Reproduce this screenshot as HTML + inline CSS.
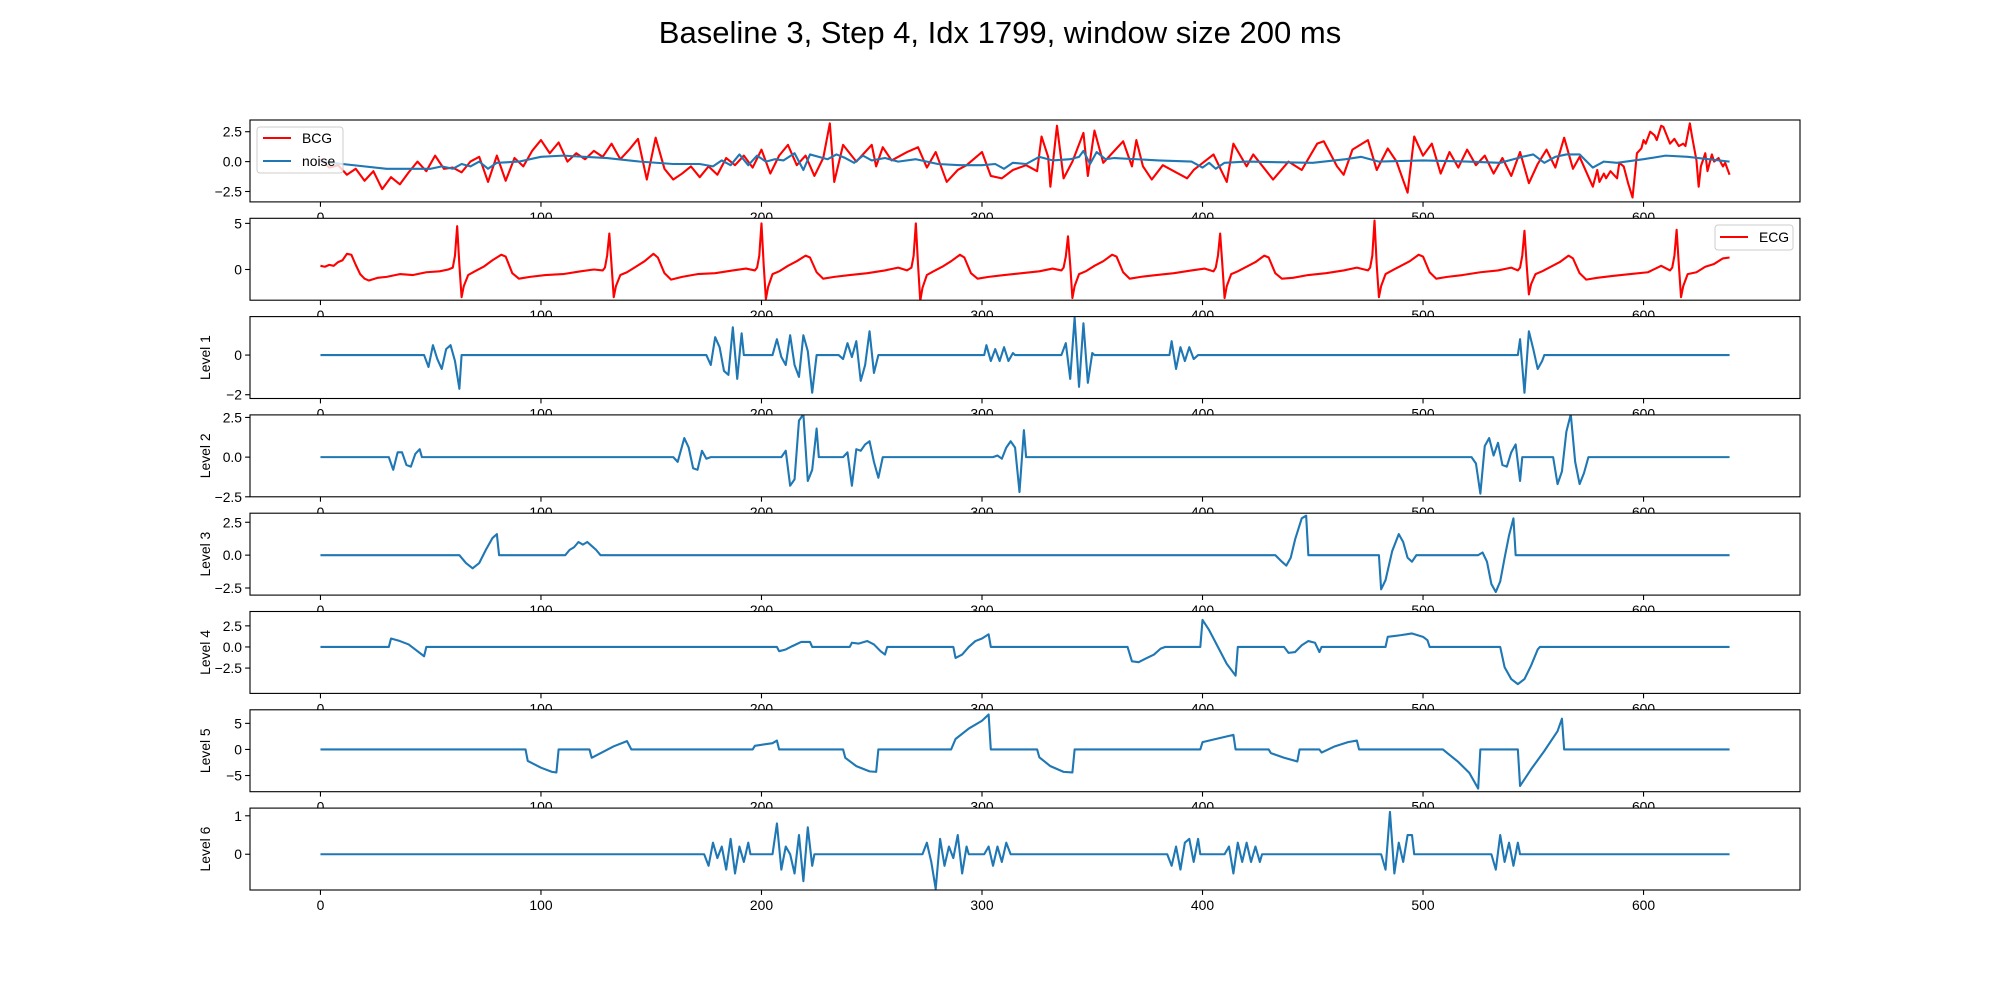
<!DOCTYPE html>
<html><head><meta charset="utf-8">
<style>
html,body{margin:0;padding:0;background:#fff;}
svg{display:block;font-family:"Liberation Sans","DejaVu Sans",sans-serif;}
</style></head>
<body>
<svg id="fig" width="2000" height="1000" viewBox="0 0 2000 1000">
<text x="1000" y="43" text-anchor="middle" font-size="31">Baseline 3, Step 4, Idx 1799, window size 200 ms</text>
</svg>
<script>
// ---- data (x,y pairs) ----
const bcgData = [[0,0.2],[4,-0.5],[8,-0.3],[12,-1.1],[16,-0.6],[20,-1.6],[24,-0.8],[28,-2.3],[32,-1.3],[36,-1.9],[40,-0.9],[44,0.0],[48,-0.8],[52,0.5],[56,-0.6],[60,-0.5],[64,-0.9],[68,0.0],[72,0.4],[76,-1.7],[80,0.5],[84,-1.6],[88,0.3],[92,-0.4],[96,0.9],[100,1.8],[104,0.7],[108,1.6],[112,0.0],[116,0.7],[120,0.2],[124,0.9],[128,0.4],[132,1.5],[136,0.2],[140,1.0],[144,1.9],[148,-1.5],[152,2.0],[156,-0.6],[160,-1.5],[164,-1.0],[168,-0.4],[172,-1.3],[176,-0.4],[180,-1.1],[184,0.3],[188,-0.3],[192,0.5],[196,-0.5],[200,1.0],[204,-1.0],[208,0.5],[212,1.4],[216,-0.3],[220,0.5],[224,-1.2],[228,0.3],[231,3.2],[233,-1.7],[237,1.4],[243,0.0],[250,1.4],[252,-0.4],[255,1.2],[259,0.1],[266,0.8],[271,1.2],[275,-0.5],[279,0.8],[284,-1.7],[289,-0.7],[293,-0.3],[300,0.8],[304,-1.2],[309,-1.4],[314,-0.7],[320,-0.3],[325,-0.8],[327,2.1],[330,0.4],[331,-2.1],[334,3.0],[337,-1.4],[341,0.0],[346,2.4],[348,-1.2],[351,2.6],[355,-0.1],[359,0.7],[364,1.7],[368,-0.4],[370,1.8],[373,-0.4],[377,-1.5],[382,-0.3],[387,-0.8],[393,-1.4],[396,-0.7],[405,0.6],[411,-1.7],[414,1.5],[420,-0.4],[423,0.6],[432,-1.5],[439,0.0],[445,-0.7],[452,1.5],[455,1.7],[461,-0.4],[464,-1.1],[468,1.0],[475,1.8],[479,-0.7],[484,1.1],[488,0.0],[493,-2.6],[496,2.1],[500,0.5],[504,1.5],[508,-1.0],[512,0.8],[516,-0.5],[520,1.0],[524,-0.3],[528,0.5],[532,-1.0],[536,0.3],[540,-1.2],[544,0.8],[548,-1.8],[552,-0.2],[556,1.0],[560,-0.5],[564,2.0],[568,-0.6],[571,0.4],[577,-2.1],[579,-0.7],[580,-1.7],[582,-1.0],[583,-1.4],[585,-0.8],[588,-1.4],[589,-0.1],[591,-0.4],[593,-1.8],[595,-3.0],[596,-1.2],[597,0.7],[599,1.1],[600,1.8],[601,1.5],[603,2.5],[605,2.2],[606,1.8],[608,3.0],[609,2.9],[612,1.5],[614,1.9],[616,1.3],[618,1.5],[619,1.3],[621,3.2],[622,2.1],[624,0.1],[625,-2.1],[626,-0.4],[628,0.7],[629,-0.8],[631,0.6],[632,0.0],[634,0.3],[636,-0.4],[637,-0.1],[639,-1.1]];
const noiseData = [[0,0.0],[10,-0.2],[30,-0.6],[50,-0.6],[55,-0.4],[60,-0.6],[64,-0.2],[68,-0.4],[72,0.0],[76,-0.6],[80,-0.1],[90,0.0],[100,0.4],[110,0.5],[130,0.3],[145,0.0],[160,-0.2],[172,-0.2],[178,-0.4],[182,0.1],[186,-0.3],[190,0.6],[194,-0.3],[198,0.5],[202,0.0],[206,0.2],[210,0.1],[215,0.7],[219,-0.7],[222,0.6],[226,0.4],[230,0.2],[234,0.6],[238,0.3],[242,-0.1],[246,0.5],[250,0.1],[256,0.3],[262,0.0],[270,0.2],[280,-0.2],[290,-0.3],[300,-0.3],[306,-0.2],[310,-0.6],[314,-0.1],[320,-0.2],[326,0.4],[332,0.1],[340,0.2],[344,0.4],[346,0.9],[349,-0.2],[352,0.8],[356,0.2],[360,0.3],[380,0.1],[395,0.0],[400,-0.5],[403,-0.1],[406,-0.6],[410,-0.1],[420,0.0],[450,-0.1],[465,0.2],[472,0.4],[480,0.0],[500,0.1],[520,0.0],[535,-0.1],[545,0.4],[550,0.6],[555,-0.1],[560,0.4],[565,0.6],[571,0.6],[577,-0.5],[582,0.0],[588,-0.1],[600,0.2],[610,0.5],[620,0.4],[639,0.0]];
const ecgData = [[0,0.4],[2,0.3],[4,0.5],[6,0.4],[8,0.8],[10,1.0],[12,1.7],[14,1.6],[16,0.5],[18,-0.5],[20,-1.0],[22,-1.2],[26,-0.9],[30,-0.8],[36,-0.5],[42,-0.6],[48,-0.3],[54,-0.2],[58,0.0],
[60,0.2],[61,1.5],[62,4.7],[63,0.5],[64,-3.0],[65,-1.8],[67,-0.6],[70,-0.2],[74,0.3],[78,1.0],[82,1.6],[84,1.4],[87,-0.4],[90,-1.0],[95,-0.8],[102,-0.6],[110,-0.5],[118,-0.2],[124,0.0],[128,-0.1],
[129,0.2],[130,1.5],[131,3.9],[132,0.5],[133,-3.0],[134,-1.8],[136,-0.6],[139,-0.3],[143,0.3],[147,0.9],[151,1.7],[153,1.3],[156,-0.4],[159,-1.1],[164,-0.8],[171,-0.5],[179,-0.4],[187,-0.1],[193,0.1],[197,-0.1],
[198,0.2],[199,1.5],[200,5.0],[201,0.5],[202,-3.2],[203,-1.9],[205,-0.5],[208,-0.2],[212,0.4],[216,0.9],[220,1.5],[222,1.3],[225,-0.3],[228,-1.0],[233,-0.8],[240,-0.6],[248,-0.4],[256,-0.1],[262,0.2],[266,-0.1],
[268,0.2],[269,1.5],[270,5.0],[271,0.5],[272,-3.4],[273,-2.0],[275,-0.6],[278,-0.2],[282,0.3],[286,0.9],[290,1.6],[292,1.3],[295,-0.4],[298,-1.0],[303,-0.8],[310,-0.6],[318,-0.4],[326,-0.2],[332,0.1],[336,-0.1],
[337,0.2],[338,1.4],[339,3.6],[340,0.5],[341,-3.1],[342,-1.8],[344,-0.5],[347,-0.2],[351,0.4],[355,0.9],[359,1.6],[361,1.4],[364,-0.3],[367,-1.0],[372,-0.8],[379,-0.6],[387,-0.4],[395,-0.1],[401,0.1],[405,-0.2],
[406,0.2],[407,1.5],[408,3.9],[409,0.5],[410,-3.1],[411,-1.8],[413,-0.5],[416,-0.2],[420,0.3],[424,0.8],[428,1.5],[430,1.3],[433,-0.4],[436,-1.0],[441,-0.9],[448,-0.6],[456,-0.4],[464,-0.1],[470,0.2],[475,-0.1],
[476,0.2],[477,1.5],[478,5.3],[479,0.5],[480,-3.0],[481,-1.8],[483,-0.5],[486,-0.1],[490,0.4],[494,0.9],[498,1.6],[500,1.4],[503,-0.3],[506,-1.0],[511,-0.8],[518,-0.6],[526,-0.3],[534,-0.1],[540,0.2],[543,-0.1],
[544,0.2],[545,1.5],[546,4.2],[547,0.5],[548,-2.7],[549,-1.6],[551,-0.5],[554,-0.2],[558,0.3],[562,0.8],[566,1.5],[568,1.2],[571,-0.4],[574,-1.1],[579,-0.9],[586,-0.7],[594,-0.5],[602,-0.3],[608,0.4],[612,-0.1],
[613,0.2],[614,1.5],[615,4.3],[616,0.5],[617,-3.0],[618,-1.8],[620,-0.5],[624,-0.3],[628,0.3],[632,0.6],[636,1.2],[639,1.3]];
const level1Data = [[0,0],[47,0],[49,-0.6],[51,0.5],[53,-0.2],[55,-0.7],[57,0.3],[59,0.5],[61,-0.3],[63,-1.7],[64,0],[175,0],[177,-0.5],[179,0.9],[181,0.4],[183,-0.8],[185,-1.0],[187,1.4],[189,-1.2],[191,1.1],[192,0],[205,0],[207,0.8],[209,-0.1],[211,-0.5],[213,1.0],[215,-0.5],[217,-1.1],[219,1.0],[221,0.2],[223,-1.9],[225,0],[235,0],[237,-0.2],[239,0.6],[241,-0.1],[243,0.7],[245,-1.3],[247,-0.5],[249,1.2],[251,-0.9],[253,0],[301,0],[302,0.5],[304,-0.3],[306,0.3],[308,-0.3],[310,0.4],[312,-0.3],[314,0.1],[315,0],[336,0],[338,0.6],[340,-1.2],[342,1.9],[344,-1.6],[346,1.6],[348,-1.4],[350,0.1],[351,0],[385,0],[386,0.7],[388,-0.7],[390,0.4],[392,-0.3],[394,0.4],[396,-0.2],[398,0],[543,0],[544,0.8],[546,-1.9],[548,1.2],[550,0.3],[552,-0.7],[554,-0.3],[555,0],[639,0]];
const level2Data = [[0,0],[31,0],[33,-0.8],[35,0.3],[37,0.3],[39,-0.5],[41,-0.6],[43,0.2],[45,0.5],[46,0],[160,0],[162,-0.3],[165,1.2],[167,0.6],[169,-0.7],[171,-0.8],[173,0.4],[175,-0.1],[177,0],[209,0],[211,0.4],[213,-1.8],[215,-1.4],[217,2.3],[219,2.7],[221,-1.5],[223,-0.8],[225,1.8],[226,0],[237,0],[239,0.3],[241,-1.8],[243,0.5],[245,0.4],[247,0.8],[249,1.0],[251,-0.3],[253,-1.3],[255,0],[305,0],[307,0.1],[309,-0.1],[311,0.6],[313,1.0],[315,0.6],[317,-2.2],[319,1.7],[320,0],[522,0],[524,-0.4],[526,-2.3],[528,0.7],[530,1.2],[532,0.1],[534,0.9],[536,-0.5],[538,-0.6],[540,0.3],[542,0.8],[544,-1.5],[545,0],[559,0],[561,-1.7],[563,-0.9],[565,1.6],[567,2.7],[569,-0.3],[571,-1.7],[573,-1.0],[575,0],[639,0]];
const level3Data = [[0,0],[63,0],[66,-0.6],[69,-1.0],[72,-0.6],[75,0.4],[78,1.3],[80,1.6],[81,0],[111,0],[113,0.4],[115,0.6],[117,1.0],[119,0.8],[121,1.0],[123,0.7],[125,0.4],[127,0],[433,0],[436,-0.5],[438,-0.8],[440,-0.2],[442,1.2],[445,2.8],[447,3.0],[448,0],[480,0],[481,-2.6],[483,-1.9],[486,0.3],[489,1.6],[491,1.0],[493,-0.2],[495,-0.5],[497,0],[525,0],[527,0.2],[529,-0.5],[531,-2.2],[533,-2.8],[535,-2.0],[537,-0.2],[539,1.5],[541,2.8],[542,0],[639,0]];
const level4Data = [[0,0],[31,0],[32,1.0],[36,0.7],[40,0.3],[44,-0.5],[47,-1.1],[48,0],[207,0],[208,-0.5],[211,-0.3],[214,0.1],[218,0.6],[222,0.6],[223,0],[240,0],[241,0.5],[244,0.4],[248,0.7],[251,0.3],[254,-0.5],[256,-0.9],[257,0],[287,0],[288,-1.3],[291,-0.9],[294,0],[297,0.7],[300,1.0],[303,1.5],[304,0],[366,0],[368,-1.7],[371,-1.8],[374,-1.4],[378,-0.9],[381,-0.2],[383,0],[399,0],[400,3.2],[403,2.0],[407,0],[411,-2.0],[415,-3.4],[416,0],[437,0],[439,-0.7],[442,-0.6],[445,0.2],[448,0.7],[451,0.5],[453,-0.6],[454,0],[483,0],[484,1.2],[490,1.4],[495,1.6],[500,1.2],[502,0.8],[503,0],[535,0],[537,-2.4],[540,-3.8],[543,-4.4],[546,-3.8],[549,-2.2],[552,-0.3],[553,0],[639,0]];
const level5Data = [[0,0],[93,0],[94,-2.2],[100,-3.5],[105,-4.3],[107,-4.4],[108,0],[122,0],[123,-1.6],[128,-0.5],[133,0.6],[139,1.6],[141,0],[196,0],[197,0.7],[205,1.2],[207,1.7],[208,0],[237,0],[238,-1.6],[243,-3.2],[249,-4.2],[252,-4.3],[253,0],[286,0],[288,2.0],[294,4.0],[300,5.5],[303,6.7],[304,0],[325,0],[326,-1.5],[331,-3.2],[337,-4.3],[341,-4.4],[342,0],[399,0],[400,1.4],[406,2.0],[414,2.8],[415,0],[430,0],[431,-0.7],[437,-1.6],[443,-2.3],[444,0],[453,0],[454,-0.6],[460,0.6],[466,1.4],[470,1.7],[471,0],[509,0],[511,-0.7],[516,-2.4],[521,-4.5],[525,-7.5],[526,0],[543,0],[544,-7.0],[549,-3.8],[555,-0.3],[561,3.5],[563,5.9],[564,0],[639,0]];
const level6Data = [[0,0],[174,0],[176,-0.3],[178,0.3],[180,-0.1],[182,0.2],[184,-0.4],[186,0.4],[188,-0.5],[190,0.2],[192,-0.2],[194,0.3],[195,0],[205,0],[207,0.8],[209,-0.4],[211,0.2],[213,0],[215,-0.5],[217,0.5],[219,-0.7],[221,0.7],[223,-0.3],[224,0],[273,0],[275,0.3],[277,-0.2],[279,-0.9],[281,0.4],[283,-0.3],[285,0.2],[287,-0.1],[289,0.5],[291,-0.5],[293,0.2],[294,0],[301,0],[303,0.2],[305,-0.3],[307,0.2],[309,-0.2],[311,0.3],[313,0],[384,0],[386,-0.3],[388,0.2],[390,-0.4],[392,0.3],[394,0.4],[396,-0.2],[398,0.4],[399,0],[410,0],[412,0.2],[414,-0.5],[416,0.3],[418,-0.2],[420,0.3],[422,-0.2],[424,0.2],[426,-0.2],[427,0],[481,0],[483,-0.4],[485,1.1],[487,-0.5],[489,0.3],[491,-0.2],[493,0.5],[495,0.5],[496,0],[531,0],[533,-0.4],[535,0.5],[537,-0.2],[539,0.3],[541,-0.3],[543,0.3],[544,0],[639,0]];
const xTicks = [0,100,200,300,400,500,600];
const yTicks1 = [-2.5,0,2.5], yTickLabels1 = ["\u22122.5","0.0","2.5"];
const yTicks2 = [0,5], yTickLabels2 = ["0","5"];
const yTicks3 = [-2,0], yTickLabels3 = ["\u22122","0"];
const yTicks4 = [-2.5,0,2.5], yTickLabels4 = ["\u22122.5","0.0","2.5"];
const yTicks5 = [-2.5,0,2.5], yTickLabels5 = ["\u22122.5","0.0","2.5"];
const yTicks6 = [-2.5,0,2.5], yTickLabels6 = ["\u22122.5","0.0","2.5"];
const yTicks7 = [-5,0,5], yTickLabels7 = ["\u22125","0","5"];
const yTicks8 = [0,1], yTickLabels8 = ["0","1"];
const yLims = [[-3.37,3.48],[-3.33,5.55],[-2.19,1.94],[-2.5,2.66],[-3.04,3.19],[-5.5,4.2],[-8.1,7.6],[-0.93,1.2]];

const NS="http://www.w3.org/2000/svg";
const svg=document.getElementById('fig');
const L=250,R=1800,TOP=120,PH=81.9,GAP=16.4;
const XMIN=-31.95,XMAX=670.95;
function xs(v){return L+(v-XMIN)/(XMAX-XMIN)*(R-L);}
function mk(tag,attrs,parent){const e=document.createElementNS(NS,tag);for(const k in attrs)e.setAttribute(k,attrs[k]);(parent||svg).appendChild(e);return e;}

const panels=[
 {name:'bcg',series:[[bcgData,'#ff0000','bcg-line'],[noiseData,'#1f77b4','noise-line']],yt:yTicks1,yl:yTickLabels1,label:''},
 {name:'ecg',series:[[ecgData,'#ff0000','ecg-line']],yt:yTicks2,yl:yTickLabels2,label:''},
 {name:'level-1',series:[[level1Data,'#1f77b4','level-1-line']],yt:yTicks3,yl:yTickLabels3,label:'Level 1'},
 {name:'level-2',series:[[level2Data,'#1f77b4','level-2-line']],yt:yTicks4,yl:yTickLabels4,label:'Level 2'},
 {name:'level-3',series:[[level3Data,'#1f77b4','level-3-line']],yt:yTicks5,yl:yTickLabels5,label:'Level 3'},
 {name:'level-4',series:[[level4Data,'#1f77b4','level-4-line']],yt:yTicks6,yl:yTickLabels6,label:'Level 4'},
 {name:'level-5',series:[[level5Data,'#1f77b4','level-5-line']],yt:yTicks7,yl:yTickLabels7,label:'Level 5'},
 {name:'level-6',series:[[level6Data,'#1f77b4','level-6-line']],yt:yTicks8,yl:yTickLabels8,label:'Level 6'}
];

panels.forEach((p,i)=>{
 const top=TOP+i*(PH+GAP), bot=top+PH;
 const [y0,y1]=yLims[i];
 const ys=v=>bot-(v-y0)/(y1-y0)*PH;
 const g=mk('g',{});
 
 
 mk('rect',{x:L,y:top,width:R-L,height:PH,fill:'#fff'},g);
 const clipId='clip'+i;
 const cp=mk('clipPath',{id:clipId},g);
 mk('rect',{x:L,y:top,width:R-L,height:PH},cp);
 p.series.forEach(s=>{
  const pts=s[0].map(d=>xs(d[0]).toFixed(2)+','+ys(d[1]).toFixed(2)).join(' ');
  const pl=mk('polyline',{points:pts,fill:'none',stroke:s[1],'stroke-width':2.1,'stroke-linejoin':'round','clip-path':'url(#'+clipId+')'},g);
  
  
 });
 const fr=mk('rect',{x:L,y:top,width:R-L,height:PH,fill:'none',stroke:'#000','stroke-width':1.1},g);
 
 
 xTicks.forEach(t=>{
  const x=xs(t);
  mk('line',{x1:x,y1:bot,x2:x,y2:bot+4.9,stroke:'#000','stroke-width':1.1},g);
  const tx=mk('text',{x:x,y:bot+20,'text-anchor':'middle','font-size':13.9},g);
  tx.textContent=String(t);
  
  
 });
 p.yt.forEach((t,j)=>{
  const y=ys(t);
  mk('line',{x1:L-4.9,y1:y,x2:L,y2:y,stroke:'#000','stroke-width':1.1},g);
  const tx=mk('text',{x:L-8,y:y+5,'text-anchor':'end','font-size':13.9},g);
  tx.textContent=p.yl[j];
  
  
 });
 if(p.label){
  const cy=(top+bot)/2;
  const lt=mk('text',{x:0,y:0,'text-anchor':'middle','font-size':13.9,transform:'translate(210,'+cy+') rotate(-90)'},g);
  lt.textContent=p.label;
  
  
 }
 if(i===0){
  const lg=mk('g',{},g);
  
  
  mk('rect',{x:257,y:127,width:86,height:46,rx:3,fill:'#fff','fill-opacity':0.8,stroke:'#ccc'},lg);
  mk('line',{x1:263,y1:138,x2:291,y2:138,stroke:'#ff0000','stroke-width':2.1},lg);
  const t1=mk('text',{x:302,y:143,'font-size':13.9},lg);t1.textContent='BCG';
  
  
  mk('line',{x1:263,y1:161,x2:291,y2:161,stroke:'#1f77b4','stroke-width':2.1},lg);
  const t2=mk('text',{x:302,y:166,'font-size':13.9},lg);t2.textContent='noise';
  
  
 }
 if(i===1){
  const lg=mk('g',{},g);
  
  
  mk('rect',{x:1715,y:225,width:78,height:25,rx:3,fill:'#fff','fill-opacity':0.8,stroke:'#ccc'},lg);
  mk('line',{x1:1720,y1:237,x2:1748,y2:237,stroke:'#ff0000','stroke-width':2.1},lg);
  const t1=mk('text',{x:1759,y:242,'font-size':13.9},lg);t1.textContent='ECG';
  
  
 }
});
</script>
</body></html>
